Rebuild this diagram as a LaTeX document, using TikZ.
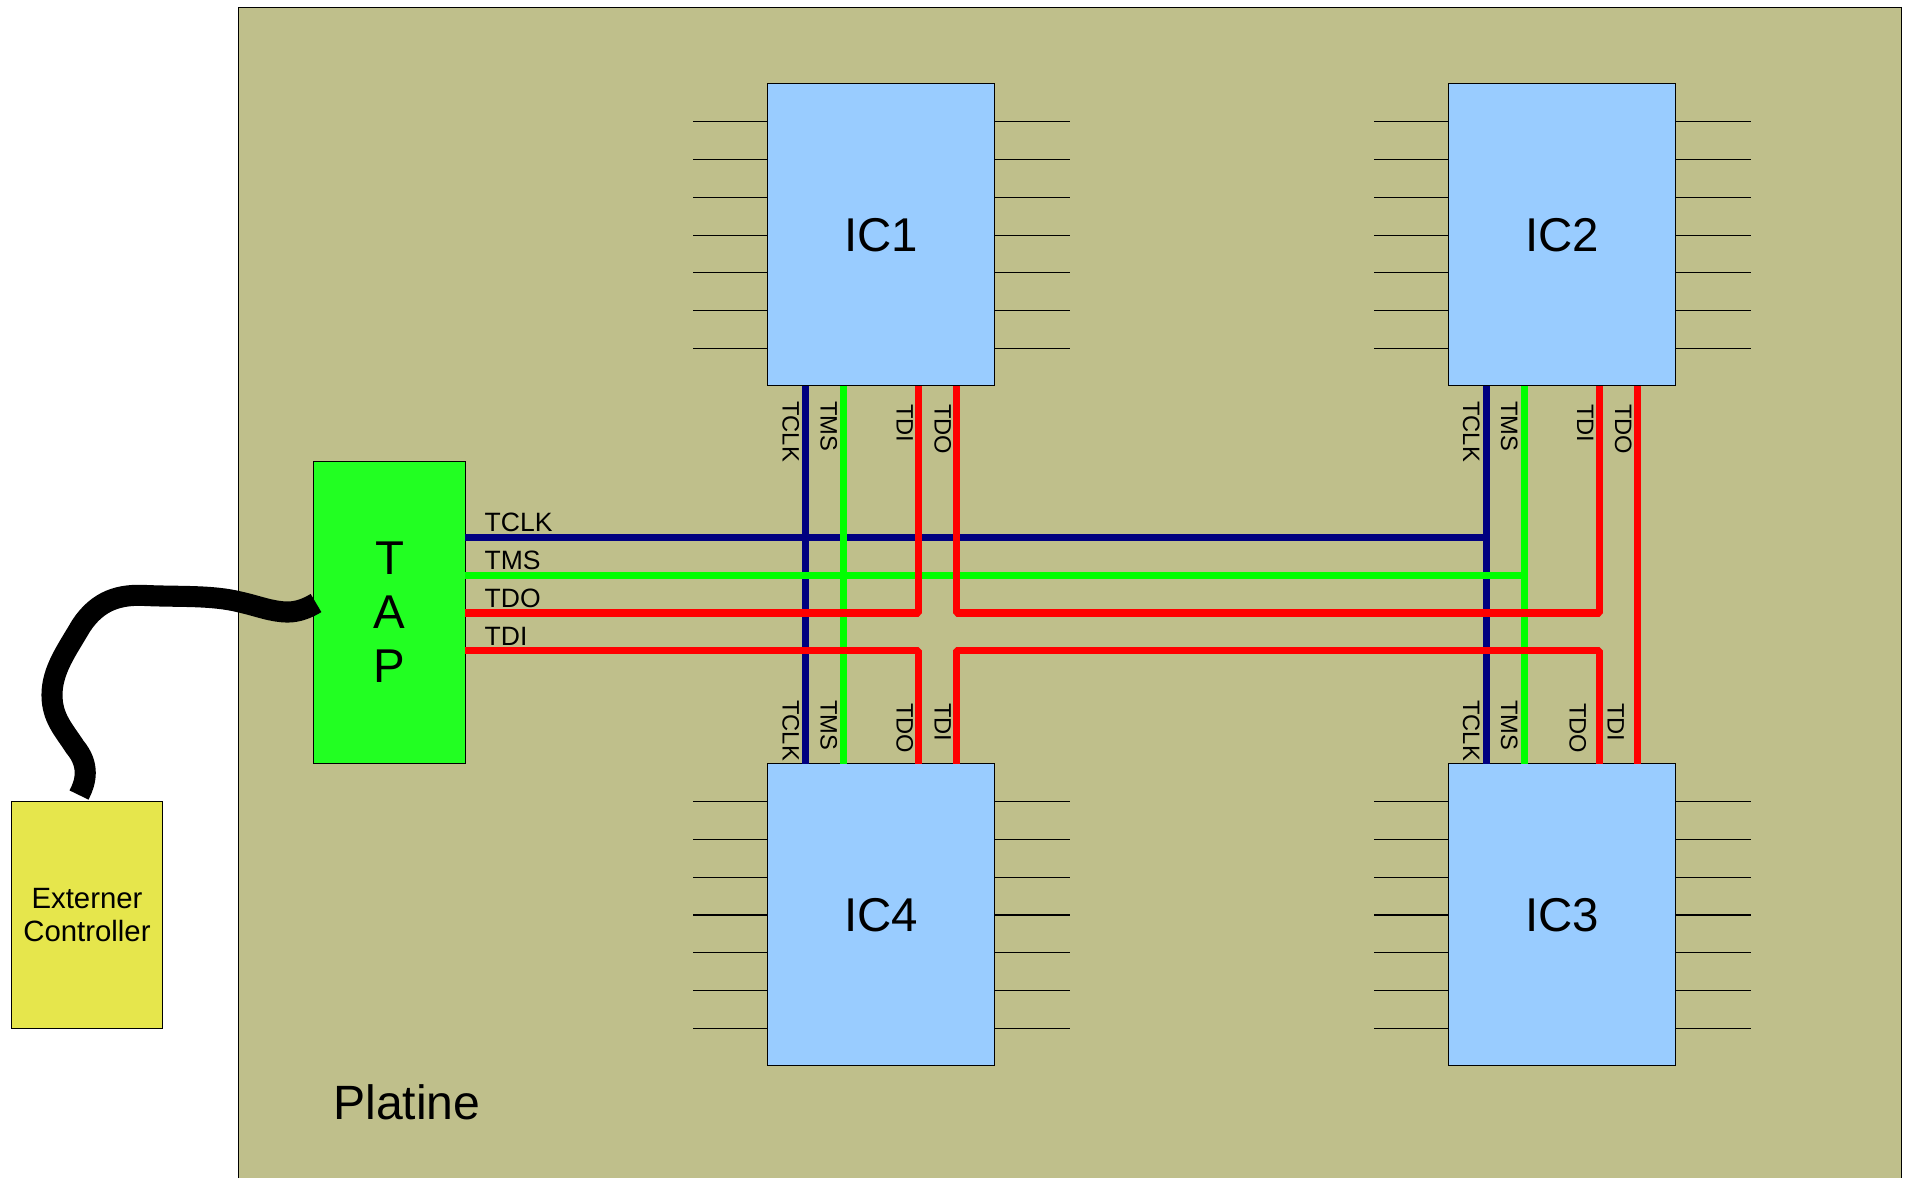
\documentclass[tikz,border=0pt]{standalone}
\usepackage{fontspec}
\setmainfont{Liberation Sans}
\usetikzlibrary{positioning,calc}
\definecolor{boardc}{HTML}{BFBF8B}
\definecolor{chipc}{HTML}{99CCFF}
\definecolor{tapc}{HTML}{22FF22}
\definecolor{extc}{HTML}{E6E64C}
\definecolor{navyw}{HTML}{000080}
\definecolor{greenw}{HTML}{00FF00}
\definecolor{redw}{HTML}{FF0000}

\begin{document}
\begin{tikzpicture}[x=0.02cm,y=-0.02cm,
  big/.style={font=\fontsize{27}{30.7}\selectfont},
  ic/.style={draw,line width=0.6pt,outer sep=0pt,fill=chipc,minimum width=4.54cm,minimum height=6.04cm,inner sep=0pt,big},
  pin/.style={line width=0.6pt},
  wire/.style={line width=4pt,line join=bevel},
  tag/.style={inner sep=0pt,font=\fontsize{15.1}{18}\selectfont,text height=0.716em,text depth=0pt},
  vtag/.style={tag,font=\fontsize{13.5}{16}\selectfont,rotate=-90,anchor=west}]
\useasboundingbox (0,0) rectangle (1906,1178);
% board
\fill[boardc] (238.5,7.5) rectangle (1901.5,1178);
\draw[line width=0.6pt] (238.5,1178) |- (1901.5,7.5) -- (1901.5,1178);
\node[anchor=base west,inner sep=0pt,font=\fontsize{27.4}{30}\selectfont] (platine) at (333,1119) {Platine};
% chips
\node[ic] (ic1) at (881.2,234.9) {IC1};
\node[ic,right=9.08cm of ic1] (ic2) {IC2};
\node[ic,below=7.56cm of ic1] (ic4) {IC4};
\node[ic,below=7.56cm of ic2] (ic3) {IC3};
\node[draw,line width=0.6pt,outer sep=0pt,fill=tapc,minimum width=3.03cm,minimum height=6.05cm,align=center,inner sep=0pt,big] (tap) at (389.5,612.5) {T\\A\\P};
\node[draw,line width=0.6pt,outer sep=0pt,fill=extc,minimum width=3.03cm,minimum height=4.54cm,align=center,inner sep=0pt,font=\fontsize{16.7}{19}\selectfont] (ext) at (87,915) {Externer\\Controller};
% pins
\foreach \n in {ic1,ic2,ic3,ic4}
  \foreach \k in {1,...,7} {
    \draw[pin] ($(\n.north west)+(0,37.8*\k)$)--++(-75,0);
    \draw[pin] ($(\n.north east)+(0,37.8*\k)$)--++(75,0);
  }
% ports
\foreach \n in {ic1,ic2} {
  \coordinate (\n tclk) at ($(\n.south west)+(37.8,0)$);
  \coordinate (\n tms) at ($(\n.south west)+(75.6,0)$);
  \coordinate (\n tdi) at ($(\n.south west)+(151.2,0)$);
  \coordinate (\n tdo) at ($(\n.south west)+(189,0)$);
}
\foreach \n in {ic3,ic4} {
  \coordinate (\n tclk) at ($(\n.north west)+(37.8,0)$);
  \coordinate (\n tms) at ($(\n.north west)+(75.6,0)$);
  \coordinate (\n tdo) at ($(\n.north west)+(151.2,0)$);
  \coordinate (\n tdi) at ($(\n.north west)+(189,0)$);
}
\coordinate (taptclk) at ($(tap.north east)+(0,76.1)$);
\coordinate (taptms) at ($(tap.north east)+(0,113.9)$);
\coordinate (taptdo) at ($(tap.north east)+(0,151.7)$);
\coordinate (taptdi) at ($(tap.north east)+(0,189.5)$);
% wires
\draw[wire,navyw] (ic1tclk)--(ic4tclk);
\draw[wire,navyw] (ic2tclk)--(ic3tclk);
\draw[wire,navyw] (taptclk)--(taptclk -| ic2tclk);
\draw[wire,greenw] (ic1tms)--(ic4tms);
\draw[wire,greenw] (ic2tms)--(ic3tms);
\draw[wire,greenw] (taptms)--(taptms -| ic2tms);
\draw[wire,redw] (taptdo)-|(ic1tdi);
\draw[wire,redw] (ic1tdo)--(ic1tdo |- taptdo)--(ic2tdi |- taptdo)--(ic2tdi);
\draw[wire,redw] (ic2tdo)--(ic3tdi);
\draw[wire,redw] (ic3tdo)--(ic3tdo |- taptdi)--(ic4tdi |- taptdi)--(ic4tdi);
\draw[wire,redw] (taptdi)-|(ic4tdo);
% labels
\node[tag,anchor=base west] (ltclk) at (484.3,531.7) {TCLK};
\node[tag,anchor=base west] (ltms) at (484.3,569.3) {TMS};
\node[tag,anchor=base west] (ltdo) at (484.3,607) {TDO};
\node[tag,anchor=base west] (ltdi) at (484.3,645) {TDI};
\foreach \n/\dx in {ic1/0,ic2/680.4} {
  \node[vtag] (\n a) at (789+\dx,401) {TCLK};
  \node[vtag] (\n b) at (827+\dx,401) {TMS};
  \node[vtag] (\n c) at (903+\dx,404) {TDI};
  \node[vtag] (\n d) at (941+\dx,404) {TDO};
}
\foreach \n/\dx/\xa/\xb in {ic4/0/903/941,ic3/680.4/1576/1614} {
  \node[vtag] (\n a) at (789+\dx,700) {TCLK};
  \node[vtag] (\n b) at (827+\dx,700) {TMS};
  \node[vtag] (\n c) at (\xa,703) {TDO};
  \node[vtag] (\n d) at (\xb,703) {TDI};
}
% cable
\coordinate (cabletap) at (316,603);
\coordinate (cableext) at (79,795);
\draw[line width=12pt] (cableext) .. controls (86,782) and (90,765) .. (75,747)
  .. controls (64,730) and (52,718) .. (52,695)
  .. controls (52,670) and (67,650) .. (81,626)
  .. controls (98,600) and (120,594) .. (146,595.5)
  .. controls (180,597) and (212,595) .. (240,602)
  .. controls (258,606) and (272,612) .. (288,612)
  .. controls (298,612) and (308,608) .. (cabletap);
\end{tikzpicture}
\end{document}
